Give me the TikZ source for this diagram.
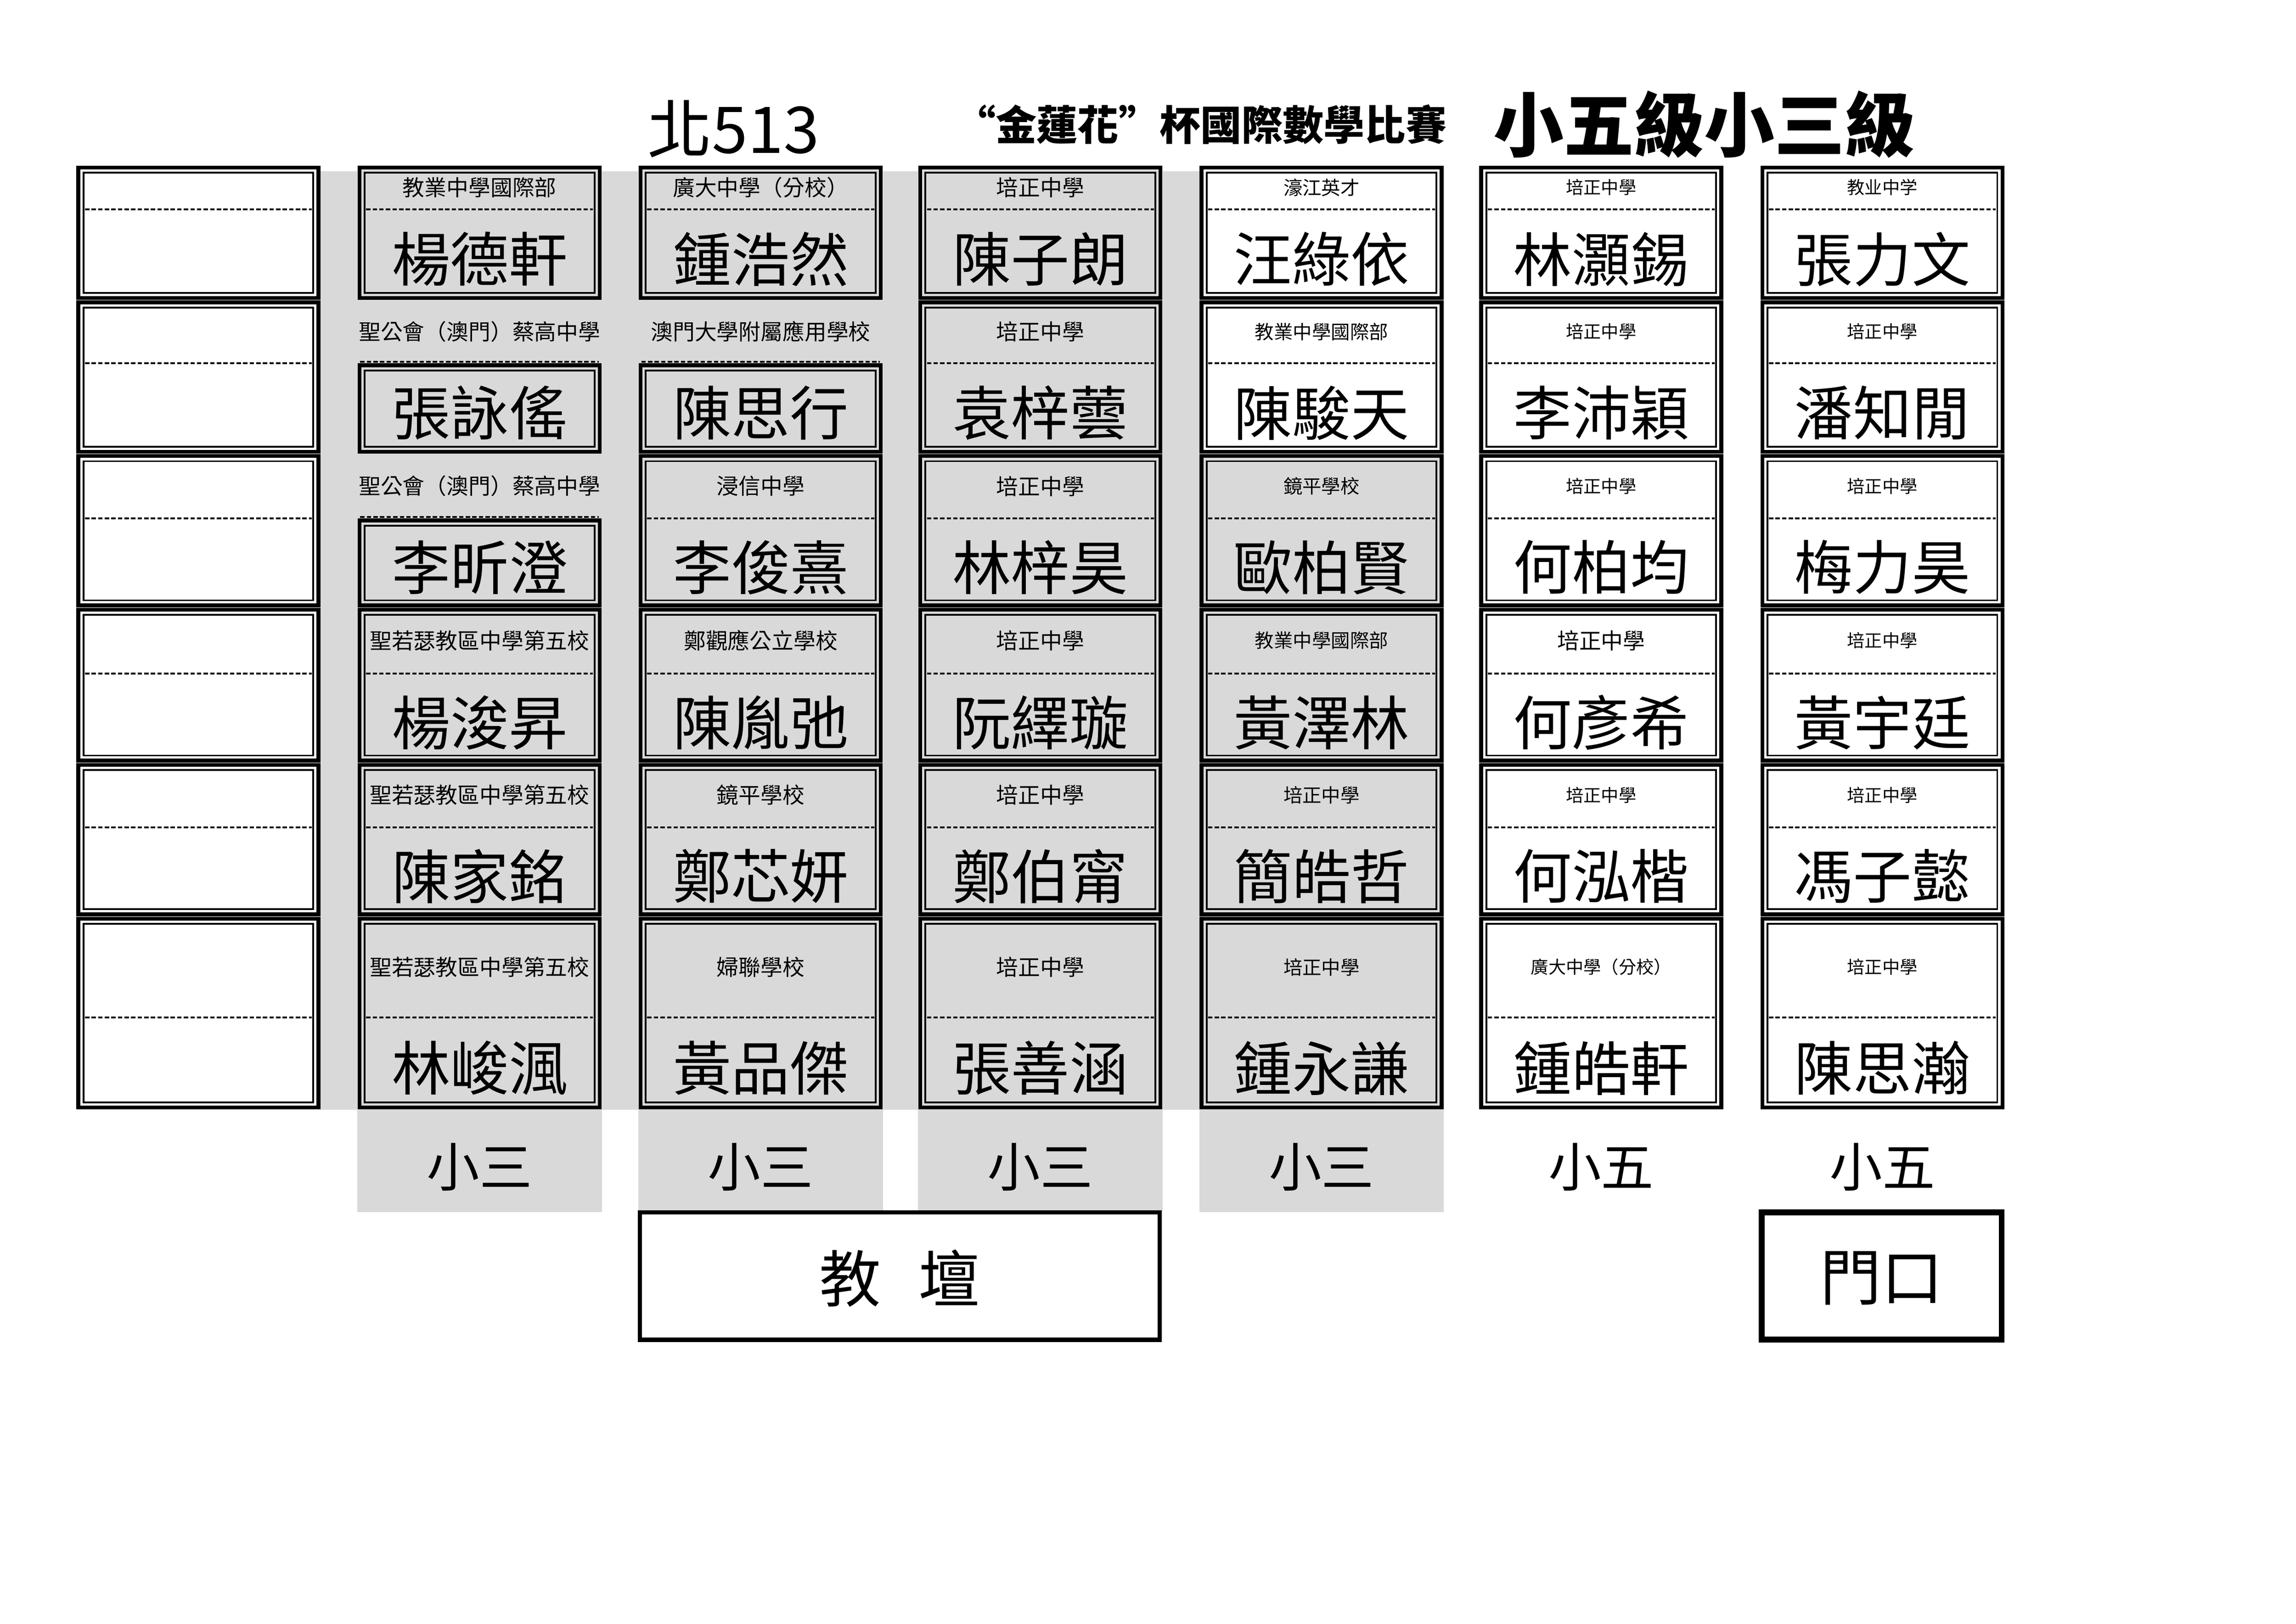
\documentclass[tikz,border=0pt]{standalone}
\usepackage{fontspec}
\newfontfamily\cjk{Noto Sans CJK TC}
\definecolor{seatgray}{HTML}{D9D9D9}
\tikzset{
 outerln/.style={line width=2.6pt},
 innerln/.style={line width=1.2pt},
 dashln/.style={line width=1.3pt, dash pattern=on 3pt off 1.5pt},
 schooltxt/.style={font=\cjk\fontsize{15}{15}\selectfont, inner sep=0pt},
 nametxt/.style={font=\cjk\fontsize{40}{40}\selectfont, inner sep=0pt},
 gradetxt/.style={font=\cjk\fontsize{36}{36}\selectfont, inner sep=0pt},
}
% #1 id, #2 x, #3 top, #4 dash, #5 bottom, #6 fill, #7 school, #8 student
\newcommand\seat[8]{%
 \fill[#6] (#2,#3) rectangle ({#2+167},#5);
 \draw[outerln] ({#2+1.5},{#3+1.5}) rectangle ({#2+165.5},{#5-1.5});
 \draw[innerln] ({#2+5},{#3+5}) rectangle ({#2+162},{#5-5});
 \draw[dashln] ({#2+6},#4) -- ({#2+161},#4);
 \node[schooltxt] (#1s) at ({#2+83.5},{(#3+#4)/2}) {#7};
 \node[nametxt] (#1n) at ({#2+83.5},{(#4+#5)/2+3}) {#8};
}
\newcommand\seatout[8]{%
 \node[schooltxt] (#1s) at ({#2+83.5},{(#3+#4)/2}) {#7};
 \fill[#6] (#2,#4) rectangle ({#2+167},#5);
 \draw[dashln] ({#2+2},{#4-1}) -- ({#2+165},{#4-1});
 \draw[outerln] ({#2+1.5},{#4+1.5}) rectangle ({#2+165.5},{#5-1.5});
 \draw[innerln] ({#2+5},{#4+5}) rectangle ({#2+162},{#5-5});
 \node[nametxt] (#1n) at ({#2+83.5},{(#4+#5)/2+3}) {#8};
}
\begin{document}
\begin{tikzpicture}[x=1pt,y=-1pt]
\useasboundingbox (0,0) rectangle (1568,1109);
\fill[white] (0,0) rectangle (1568,1109);
% gray background
\fill[seatgray] (219,117) rectangle (986,758);
% titles
\node[font=\cjk\fontsize{44}{44}\selectfont, inner sep=0pt] (room) at (501,88) {北513};
\node[font=\cjk\bfseries\fontsize{28}{28}\selectfont, inner sep=0pt] (contest) at (820,85) {“金蓮花”杯國際數學比賽};
\node[font=\cjk\bfseries\fontsize{48}{48}\selectfont, inner sep=0pt] (level) at (1164,85) {小五級小三級};
% column 0 (empty)
\foreach \t/\d/\b [count=\i] in {113/143/205,205/248/310,310/354/415,415/460/521,521/565/626,626/695/758}{
 \seat{e\i}{52}{\t}{\d}{\b}{white}{}{}
}
% column 1
\seat{a1}{244}{113}{143}{205}{seatgray}{教業中學國際部}{楊德軒}
\seatout{a2}{244}{205}{248}{310}{seatgray}{聖公會（澳門）蔡高中學}{張詠傜}
\seatout{a3}{244}{310}{354}{415}{seatgray}{聖公會（澳門）蔡高中學}{李昕澄}
\seat{a4}{244}{415}{460}{521}{seatgray}{聖若瑟教區中學第五校}{楊浚昇}
\seat{a5}{244}{521}{565}{626}{seatgray}{聖若瑟教區中學第五校}{陳家銘}
\seat{a6}{244}{626}{695}{758}{seatgray}{聖若瑟教區中學第五校}{林峻渢}
% column 2
\seat{b1}{436}{113}{143}{205}{seatgray}{廣大中學（分校）}{鍾浩然}
\seatout{b2}{436}{205}{248}{310}{seatgray}{澳門大學附屬應用學校}{陳思行}
\seat{b3}{436}{310}{354}{415}{seatgray}{浸信中學}{李俊熹}
\seat{b4}{436}{415}{460}{521}{seatgray}{鄭觀應公立學校}{陳胤弛}
\seat{b5}{436}{521}{565}{626}{seatgray}{鏡平學校}{鄭芯妍}
\seat{b6}{436}{626}{695}{758}{seatgray}{婦聯學校}{黃品傑}
% column 3
\seat{c1}{627}{113}{143}{205}{seatgray}{培正中學}{陳子朗}
\seat{c2}{627}{205}{248}{310}{seatgray}{培正中學}{袁梓蕓}
\seat{c3}{627}{310}{354}{415}{seatgray}{培正中學}{林梓昊}
\seat{c4}{627}{415}{460}{521}{seatgray}{培正中學}{阮繹璇}
\seat{c5}{627}{521}{565}{626}{seatgray}{培正中學}{鄭伯甯}
\seat{c6}{627}{626}{695}{758}{seatgray}{培正中學}{張善涵}
\tikzset{schooltxt/.style={font=\cjk\fontsize{13}{13}\selectfont, inner sep=0pt}}
% column 4
\seat{d1}{819}{113}{143}{205}{white}{濠江英才}{汪綠依}
\seat{d2}{819}{205}{248}{310}{white}{教業中學國際部}{陳駿天}
\seat{d3}{819}{310}{354}{415}{seatgray}{鏡平學校}{歐柏賢}
\seat{d4}{819}{415}{460}{521}{seatgray}{教業中學國際部}{黃澤林}
\seat{d5}{819}{521}{565}{626}{seatgray}{培正中學}{簡皓哲}
\seat{d6}{819}{626}{695}{758}{seatgray}{培正中學}{鍾永謙}
\tikzset{schooltxt/.style={font=\cjk\fontsize{12}{12}\selectfont, inner sep=0pt}}
% column 5
\seat{f1}{1010}{113}{143}{205}{white}{培正中學}{林灝錫}
\seat{f2}{1010}{205}{248}{310}{white}{培正中學}{李沛穎}
\seat{f3}{1010}{310}{354}{415}{white}{培正中學}{何柏均}
\seat{f4}{1010}{415}{460}{521}{white}{\fontsize{15}{15}\selectfont 培正中學}{何彥希}
\seat{f5}{1010}{521}{565}{626}{white}{培正中學}{何泓楷}
\seat{f6}{1010}{626}{695}{758}{white}{廣大中學（分校）}{鍾皓軒}
% column 6
\seat{g1}{1202}{113}{143}{205}{white}{教业中学}{張力文}
\seat{g2}{1202}{205}{248}{310}{white}{培正中學}{潘知閒}
\seat{g3}{1202}{310}{354}{415}{white}{培正中學}{梅力昊}
\seat{g4}{1202}{415}{460}{521}{white}{培正中學}{黃宇廷}
\seat{g5}{1202}{521}{565}{626}{white}{培正中學}{馮子懿}
\seat{g6}{1202}{626}{695}{758}{white}{培正中學}{陳思瀚}
% grade labels
\foreach \x [count=\i] in {244,436,627,819}{
 \fill[seatgray] (\x,758) rectangle ({\x+167},828);
 \node[gradetxt] (gr\i) at ({\x+83.5},797) {小三};
}
\node[gradetxt] (gr5) at (1093.5,797) {小五};
\node[gradetxt] (gr6) at (1285.5,797) {小五};
% teacher desk and door
\draw[line width=3pt, fill=white] (437,828) rectangle (792,915);
\node[font=\cjk\fontsize{42}{42}\selectfont, inner sep=0pt] (desk) at (614.5,873) {教\hspace{26pt}壇};
\draw[line width=4pt, fill=white] (1203,828) rectangle (1367,915);
\node[font=\cjk\fontsize{42}{42}\selectfont, inner sep=0pt] (door) at (1285,873) {門口};
\end{tikzpicture}
\end{document}
